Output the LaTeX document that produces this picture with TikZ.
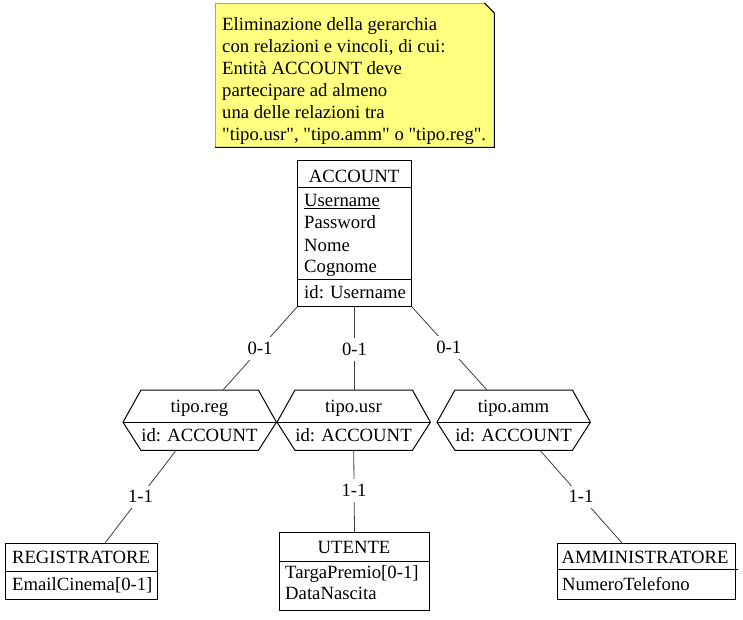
\documentclass[tikz,border=0pt]{standalone}
\usepackage{fontspec}
\setmainfont{Liberation Serif}[Ligatures=TeXOff]
\usetikzlibrary{positioning,calc}
\definecolor{notefill}{HTML}{FFFF80}
\definecolor{notegray}{HTML}{A0A0A0}
\definecolor{linkgray}{HTML}{404040}

\begin{document}
\begin{tikzpicture}[x=1pt,y=-1pt,
  every node/.style={font=\fontsize{18.7}{22}\selectfont, inner sep=0pt},
  ent/.style={draw=black, line width=1pt, anchor=north west, inner sep=0pt},
  hexa/.style={minimum width=153pt, minimum height=60pt, anchor=north west, inner sep=0pt},
  sep/.style={line width=1pt},
  ttl/.style={anchor=base},
  attr/.style={anchor=base west},
  link/.style={draw=linkgray, line width=0.8pt},
  card/.style={fill=white, inner xsep=2pt, inner ysep=5pt}
]
  \fill[white] (0,0) rectangle (743,620);
  \useasboundingbox (0,0) rectangle (743,620);

  % note
  \node[minimum width=279pt, minimum height=144pt, anchor=north west] (note) at (215,3) {};
  \fill[notefill] (note.north west) -- ($(note.north east)+(-10,0)$) -- ($(note.north east)+(0,10)$)
    -- (note.south east) -- (note.south west) -- cycle;
  \draw[notegray, line width=0.8pt] (note.south west) -- (note.north west) -- ($(note.north east)+(-10,0)$);
  \draw[line width=1pt] ($(note.north east)+(-10,0)$) -- ($(note.north east)+(0,10)$)
    -- (note.south east) -- (note.south west);
  \node[anchor=north west, align=left] (notetext) at (222,17)
    {Eliminazione della gerarchia\\con relazioni e vincoli, di cui:\\Entità ACCOUNT deve\\
     partecipare ad almeno\\una delle relazioni tra\\
     "tipo.usr", "tipo.amm" o "tipo.reg".};

  % ACCOUNT
  \node[ent, minimum width=114pt, minimum height=146pt] (account) at (297,160) {};
  \draw[sep] ($(account.north west)+(0,28)$) -- ($(account.north east)+(0,28)$);
  \draw[sep] ($(account.south west)+(0,-28)$) -- ($(account.south east)+(0,-28)$);
  \node[ttl]  (accname) at (354,183) {ACCOUNT};
  \node[attr] (accuser) at (304,207) {\underline{Username}};
  \node[attr] (accpass) at (304,229) {Password};
  \node[attr] (accnome) at (304,251) {Nome};
  \node[attr] (acccogn) at (304,272) {Cognome};
  \node[attr] (accid)   at (304,298) {id: Username};

  % relazioni
  \node[hexa] (tiporeg) at (123,390) {};
  \node[hexa] (tipousr) at (277,390) {};
  \node[hexa] (tipoamm) at (437,390) {};
  \foreach \r in {tiporeg,tipousr,tipoamm}{
    \draw[sep] ($(\r.west)+(0,2)$) -- ($(\r.north west)+(18,0)$) -- ($(\r.north east)+(-18,0)$)
      -- ($(\r.east)+(0,2)$) -- ($(\r.south east)+(-18,0)$) -- ($(\r.south west)+(18,0)$) -- cycle;
    \draw[sep] ($(\r.west)+(0,2)$) -- ($(\r.east)+(0,2)$);
  }
  \node[ttl] (regname) at (199.5,412) {tipo.reg};
  \node[ttl] (regid)   at (199.5,441) {id: ACCOUNT};
  \node[ttl] (usrname) at (353.5,412) {tipo.usr};
  \node[ttl] (usrid)   at (353.5,441) {id: ACCOUNT};
  \node[ttl] (ammname) at (513.5,412) {tipo.amm};
  \node[ttl] (ammid)   at (513.5,441) {id: ACCOUNT};

  % sottoentita
  \node[ent, minimum width=152pt, minimum height=56pt] (registratore) at (5,543) {};
  \draw[sep] ($(registratore.north west)+(0,28)$) -- ($(registratore.north east)+(0,28)$);
  \node[ttl]  (regtitle) at (81,563) {REGISTRATORE};
  \node[attr] (regmail)  at (12,590) {EmailCinema[0-1]};

  \node[ent, minimum width=150pt, minimum height=78pt] (utente) at (279,532) {};
  \draw[sep] ($(utente.north west)+(0,29)$) -- ($(utente.north east)+(0,29)$);
  \node[ttl]  (uttitle) at (354,553) {UTENTE};
  \node[attr] (uttarga) at (285,578) {TargaPremio[0-1]};
  \node[attr] (utdata)  at (285,599) {DataNascita};

  \node[ent, minimum width=178pt, minimum height=56pt] (amministratore) at (557,543) {};
  \draw[sep] ($(amministratore.north west)+(0,26)$) -- ($(amministratore.north east)+(2,26)$);
  \node[ttl]  (ammtitle) at (645,563) {AMMINISTRATORE};
  \node[attr] (ammtel)   at (562,590) {NumeroTelefono};

  % collegamenti
  \draw[link] (account.south west) -- node[card,pos=0.5]{0-1} ($(tiporeg.north west)+(100,0)$);
  \draw[link] (account.south) -- node[card,pos=0.51]{0-1} (account.south |- tipousr.north);
  \draw[link] (account.south east) -- node[card,pos=0.49]{0-1} ($(tipoamm.north west)+(50,0)$);
  \draw[link] ($(tiporeg.south west)+(53,0)$) -- node[card,pos=0.5]{1-1} ($(registratore.north west)+(100,0)$);
  \draw[link] (tipousr.south) -- node[card,pos=0.49]{1-1} (utente.north);
  \draw[link] ($(tipoamm.south west)+(103,0)$) -- node[card,pos=0.5]{1-1} ($(amministratore.north west)+(65,0)$);
\end{tikzpicture}
\end{document}
